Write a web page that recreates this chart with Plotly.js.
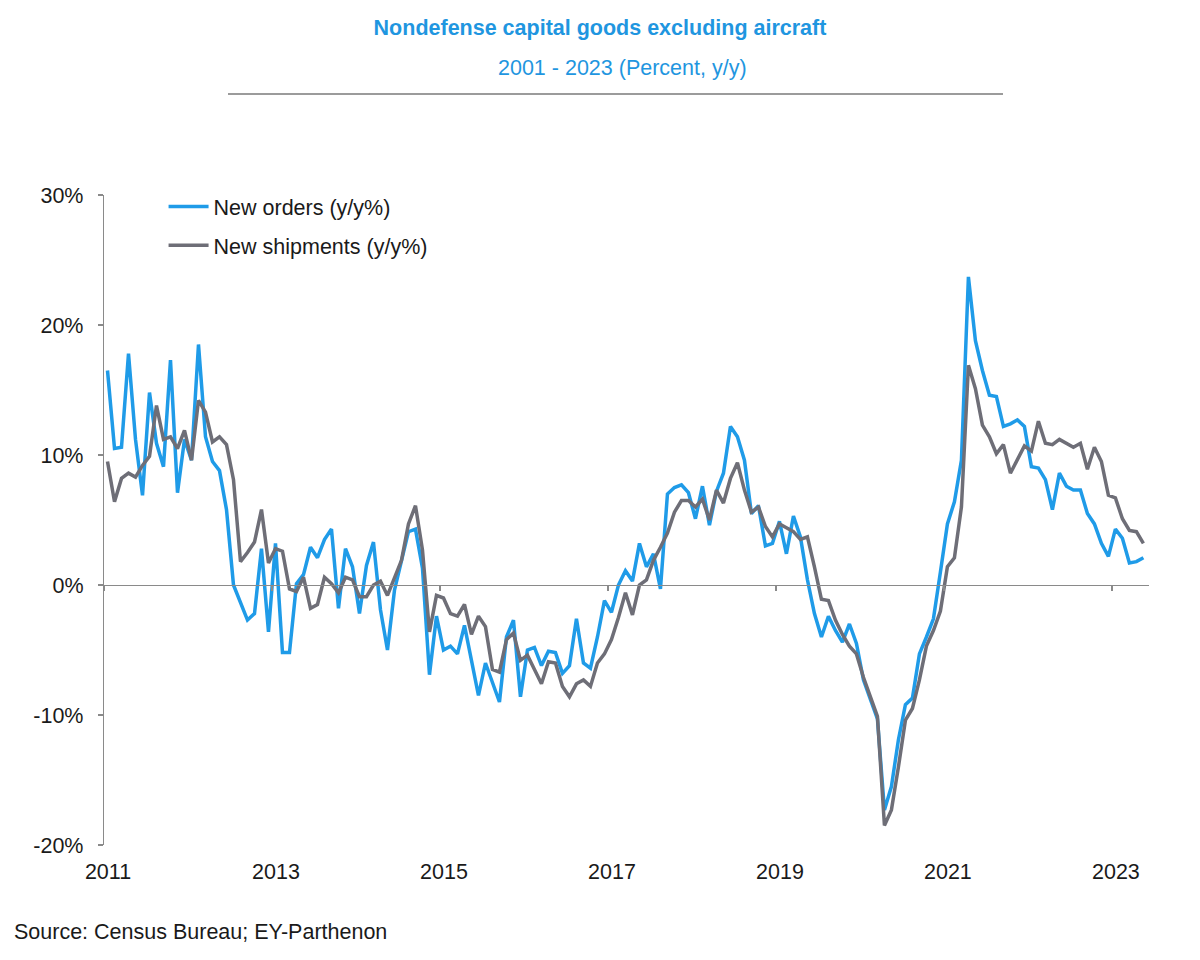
<!DOCTYPE html>
<html>
<head>
<meta charset="utf-8">
<script src="https://cdn.plot.ly/plotly-3.0.1.min.js"></script>
<style>html,body{margin:0;padding:0;background:#fff;}#chart{width:1200px;height:960px;}</style>
</head>
<body>
<div id="chart"></div>
<script>
// Monthly data, Jan 2011 .. May 2023
const startYear = 2011;
const startMonth = 0;
const newOrders = [
 16.5,10.5,10.6,17.8,11.2,6.9,14.8,10.9,9.1,17.3,7.1,11.2,
 9.6,18.5,11.4,9.5,8.8,5.8,0.0,-1.4,-2.7,-2.2,2.8,-3.6,
 3.2,-5.2,-5.2,0.1,0.8,2.9,2.1,3.5,4.3,-1.8,2.8,1.4,
 -2.2,1.5,3.3,-1.9,-5.0,-0.4,2.0,4.1,4.3,1.3,-6.9,-2.4,
 -5.0,-4.7,-5.3,-3.1,-5.8,-8.5,-6.0,-7.5,-9.0,-4.0,-2.7,-8.6,
 -5.0,-4.8,-6.2,-5.1,-5.2,-6.8,-6.2,-2.6,-6.0,-6.4,-4.0,-1.2,
 -2.1,0.0,1.1,0.3,3.2,1.4,2.4,-0.3,7.0,7.5,7.7,7.1,
 5.1,7.6,4.6,7.2,8.6,12.2,11.4,9.6,5.5,6.1,3.0,3.2,
 4.9,2.4,5.3,3.7,0.4,-2.2,-4.0,-2.4,-3.5,-4.4,-3.0,-4.5,
 -7.3,-8.8,-10.3,-17.3,-15.5,-11.9,-9.2,-8.7,-5.3,-4.0,-2.6,1.0,
 4.7,6.4,9.6,23.7,18.8,16.5,14.6,14.5,12.2,12.4,12.7,12.2,
 9.1,9.0,8.1,5.8,8.6,7.6,7.3,7.3,5.5,4.7,3.2,2.2,
 4.3,3.6,1.7,1.8,2.1
];
const newShipments = [
 9.5,6.4,8.2,8.6,8.3,9.2,9.9,13.8,11.2,11.4,10.5,11.9,
 9.6,14.2,13.3,11.0,11.4,10.8,8.1,1.8,2.5,3.3,5.8,1.7,
 2.8,2.6,-0.3,-0.5,0.6,-1.8,-1.5,0.6,0.1,-0.6,0.6,0.4,
 -0.9,-0.9,0.0,0.3,-0.8,0.6,1.9,4.7,6.1,2.7,-3.6,-0.8,
 -1.0,-2.2,-2.4,-1.5,-3.8,-2.4,-3.2,-6.5,-6.7,-4.2,-3.7,-5.8,
 -5.4,-6.5,-7.6,-5.9,-6.0,-7.8,-8.6,-7.6,-7.3,-7.8,-6.0,-5.3,
 -4.2,-2.5,-0.6,-2.3,0.0,0.4,1.9,2.9,4.0,5.6,6.5,6.5,
 6.0,6.6,5.0,7.3,6.3,8.2,9.4,7.3,5.6,6.0,4.5,3.7,
 4.7,4.4,4.1,3.5,3.7,1.4,-1.1,-1.2,-2.7,-3.8,-4.7,-5.3,
 -7.1,-8.6,-10.1,-18.5,-17.3,-14.0,-10.4,-9.5,-7.3,-4.7,-3.5,-2.0,
 1.4,2.1,6.0,16.9,15.1,12.3,11.4,10.1,10.8,8.6,9.6,10.7,
 10.3,12.6,10.9,10.8,11.2,10.9,10.6,10.9,8.9,10.6,9.5,6.9,
 6.7,5.1,4.2,4.1,3.2
];
const yearLabels = ['2011','2013','2015','2017','2019','2021','2023'];
const yTickVals = [-20,-10,0,10,20,30];
const yTickText = ['-20%','-10%','0%','10%','20%','30%'];

// month positions: centre of each month slot (slot 0 = Jan 2011)
const xPos = newOrders.map((_, i) => i + 0.5);
const yearTickVals = yearLabels.map(y => (parseInt(y) - startYear) * 12 - startMonth);

const BLUE = '#1f9be8';
const GRAY = '#6e6e77';
const FONT = 'Liberation Sans, Arial, sans-serif';
const FS = 21.5;

const traces = [
  {x: xPos, y: newOrders, type: 'scatter', mode: 'lines', name: 'New orders (y/y%)',
   line: {color: BLUE, width: 3.5}, legendgroup: 'a', hoverinfo: 'skip'},
  {x: xPos, y: newShipments, type: 'scatter', mode: 'lines', name: 'New shipments (y/y%)',
   line: {color: GRAY, width: 3.5}, legendgroup: 'b', hoverinfo: 'skip'},
  {x: [null], y: [null], xaxis: 'x2', type: 'scatter', mode: 'lines', showlegend: false, hoverinfo: 'skip'}
];

const xr = [0, 149.3];
const layout = {
  width: 1200, height: 960,
  margin: {l: 104, r: 51, t: 195, b: 115},
  paper_bgcolor: '#fff', plot_bgcolor: '#fff',
  font: {family: FONT, size: FS, color: '#1a1a1a'},
  title: {text: '<b>Nondefense capital goods excluding aircraft</b>',
          font: {family: FONT, size: 21.5, color: '#1f96e0'},
          x: 0.5, xref: 'container', xanchor: 'center',
          y: 1 - 27/960, yref: 'container', yanchor: 'middle'},
  showlegend: true,
  legend: {x: 0.057, y: 1.014, xanchor: 'left', yanchor: 'top',
           bgcolor: 'rgba(0,0,0,0)', font: {family: FONT, size: FS, color: '#1a1a1a'},
           traceorder: 'grouped', tracegroupgap: 8, itemwidth: 40},
  xaxis: {range: xr, tickmode: 'array', tickvals: yearTickVals, ticktext: yearLabels,
          showline: false, showgrid: false, zeroline: false, ticks: '',
          ticklabelstandoff: 11, ticklabelshift: 4,
          tickfont: {family: FONT, size: FS, color: '#1a1a1a'}},
  xaxis2: {range: xr, overlaying: 'x', anchor: 'free', position: 0.4,
           tickmode: 'array', tickvals: yearTickVals, showticklabels: false,
           showline: true, linecolor: '#8a8a8a', linewidth: 1.2,
           ticks: 'outside', ticklen: 5, tickcolor: '#8a8a8a', tickwidth: 1.2,
           showgrid: false, zeroline: false},
  yaxis: {range: [-20, 30], tickmode: 'array', tickvals: yTickVals, ticktext: yTickText,
          showline: true, linecolor: '#8a8a8a', linewidth: 1.2,
          ticks: 'outside', ticklen: 5, tickcolor: '#8a8a8a', tickwidth: 1.2,
          showgrid: false, zeroline: false, ticklabelstandoff: 10,
          tickfont: {family: FONT, size: FS, color: '#1a1a1a'}},
  annotations: [
    {text: '2001 - 2023 (Percent, y/y)', xref: 'paper', yref: 'paper',
     x: (622-104)/1045, y: (845-68)/650, xanchor: 'center', yanchor: 'middle',
     showarrow: false, font: {family: FONT, size: FS, color: '#1f96e0'}},
    {text: 'Source: Census Bureau; EY-Parthenon', xref: 'paper', yref: 'paper',
     x: (12-104)/1045, y: (845-932)/650, xanchor: 'left', yanchor: 'middle',
     showarrow: false, font: {family: FONT, size: FS, color: '#1a1a1a'}}
  ],
  shapes: [
    {type: 'line', xref: 'paper', yref: 'paper',
     x0: (228-104)/1045, x1: (1003-104)/1045, y0: (845-94)/650, y1: (845-94)/650,
     line: {color: '#7a7a7a', width: 1.5}}
  ]
};

Plotly.newPlot('chart', traces, layout, {displayModeBar: false, staticPlot: true});
</script>
</body>
</html>
